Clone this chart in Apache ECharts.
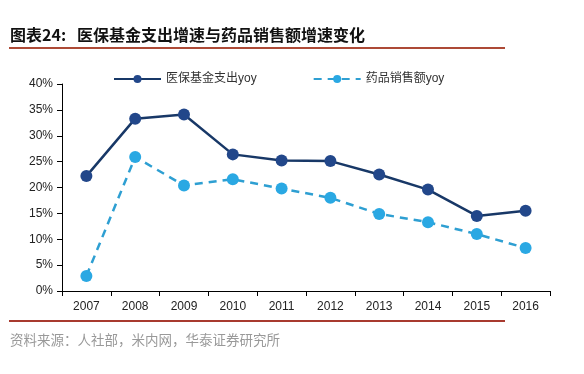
<!DOCTYPE html>
<html><head><meta charset="utf-8">
<script src="https://cdn.jsdelivr.net/npm/echarts@6/dist/echarts.min.js"></script>
<style>html,body{margin:0;padding:0;background:#fff}#c{width:584px;height:374px}</style>
</head><body><div id="c"></div>
<script>
const years = ['2007','2008','2009','2010','2011','2012','2013','2014','2015','2016'];
const fundSpend = [22.2, 33.3, 34.1, 26.4, 25.2, 25.1, 22.5, 19.6, 14.5, 15.5];
const drugSales = [2.9, 25.9, 20.4, 21.6, 19.8, 18.0, 14.9, 13.3, 11.0, 8.3];
const seriesNames = ['医保基金支出yoy', '药品销售额yoy'];
const titleText = '图表24:   医保基金支出增速与药品销售额增速变化';
const sourceText = '资料来源：人社部，米内网，华泰证券研究所';

const chart = echarts.init(document.getElementById('c'));
const font = '"Liberation Sans", Arial, "Noto Sans CJK SC", sans-serif';
chart.setOption({
  animation: false,
  backgroundColor: '#fff',
  grid: {left: 62, right: 34, top: 84, bottom: 83, containLabel: false},
  legend: {
    top: 68, left: 108, itemWidth: 47, itemHeight: 10, itemGap: 56,
    textStyle: {fontFamily: font, fontSize: 12, color: '#333'},
    data: seriesNames
  },
  xAxis: {
    type: 'category', data: years, boundaryGap: true,
    axisLine: {lineStyle: {color: '#000', width: 1}},
    axisTick: {show: true, length: 5, lineStyle: {color: '#000'}},
    axisLabel: {fontFamily: font, fontSize: 12, color: '#222', margin: 10}
  },
  yAxis: {
    type: 'value', min: 0, max: 40, interval: 5,
    axisLine: {show: true, lineStyle: {color: '#000'}},
    axisTick: {show: true, length: 5, inside: false, lineStyle: {color: '#000'}},
    splitLine: {show: false},
    axisLabel: {formatter: '{value}%', fontFamily: font, fontSize: 12, color: '#222', margin: 9}
  },
  series: [
    {name: seriesNames[0], type: 'line', data: fundSpend, symbol: 'circle', symbolSize: 12,
     lineStyle: {color: '#183867', width: 2.5}, itemStyle: {color: '#22478a'}},
    {name: seriesNames[1], type: 'line', data: drugSales, symbol: 'circle', symbolSize: 12,
     lineStyle: {color: '#2e9fd2', width: 2.5, type: [8, 6]}, itemStyle: {color: '#2aa8e3'}}
  ],
  graphic: [
    {type: 'text', left: 10, top: 27, style: {text: titleText, fontFamily: '"Noto Sans CJK SC", sans-serif', fontWeight: 'bold', fontSize: 16, fill: '#111'}},
    {type: 'rect', shape: {x: 9, y: 47, width: 496, height: 2}, style: {fill: '#ad4a36'}},
    {type: 'rect', shape: {x: 9, y: 320, width: 496, height: 2}, style: {fill: '#a83a2f'}},
    {type: 'text', left: 10, top: 333, style: {text: sourceText, fontFamily: '"Noto Sans CJK SC", sans-serif', fontSize: 13.5, fill: '#999'}}
  ]
});
</script></body></html>
